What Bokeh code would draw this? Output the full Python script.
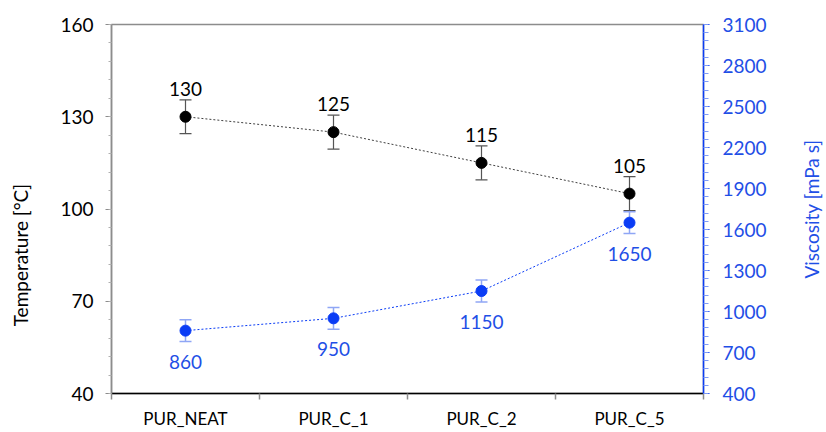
from bokeh.plotting import figure
from bokeh.models import (Range1d, LinearAxis, FixedTicker, Whisker, ColumnDataSource,
                          LabelSet, TeeHead)
from bokeh.layouts import row
from bokeh.core.properties import value
from bokeh.embed import file_html
from bokeh.resources import INLINE
import math

categories = ["PUR_NEAT", "PUR_C_1", "PUR_C_2", "PUR_C_5"]
temperature = [130, 125, 115, 105]
temperature_err = [5.5, 5.5, 5.5, 5.5]
viscosity = [860, 950, 1150, 1650]
viscosity_err = [80, 80, 80, 80]
temp_ticks = [40, 70, 100, 130, 160]
visc_ticks = [400, 700, 1000, 1300, 1600, 1900, 2200, 2500, 2800, 3100]
temp_title = "Temperature [°C]"
visc_title = "Viscosity [mPa s]"

BLUE = "#0a3cf5"
BLUE_TXT = "#1f4fe6"
GRAY = "#8c8c8c"
FONT = "Lato"
TICK_FS = "19px"
H = 431
TOP = 24
BOTTOM = 38

xs = [i + 0.5 for i in range(len(categories))]

src = ColumnDataSource(dict(
    x=xs,
    t=temperature,
    t_lo=[t - e for t, e in zip(temperature, temperature_err)],
    t_hi=[t + e for t, e in zip(temperature, temperature_err)],
    t_lab=[str(t) for t in temperature],
    v=viscosity,
    v_lo=[v - e for v, e in zip(viscosity, viscosity_err)],
    v_hi=[v + e for v, e in zip(viscosity, viscosity_err)],
    v_lab=[str(v) for v in viscosity],
))

p = figure(width=758, height=H, output_backend="svg", toolbar_location=None,
           x_range=Range1d(0, len(categories)), y_range=Range1d(40, 160),
           min_border_left=71, min_border_right=95, min_border_top=TOP,
           min_border_bottom=BOTTOM)
p.extra_y_ranges = {"visc": Range1d(400, 3100)}

p.xgrid.visible = False
p.ygrid.visible = False
p.outline_line_color = GRAY
p.outline_line_width = 1.5

# x axis
xa = p.xaxis[0]
xa.ticker = FixedTicker(ticks=xs, minor_ticks=list(range(len(categories) + 1)))
xa.major_label_overrides = {x: c for x, c in zip(xs, categories)}
xa.major_tick_out = 0
xa.major_tick_in = 0
xa.minor_tick_out = 6
xa.minor_tick_in = 0
xa.minor_tick_line_color = GRAY
xa.minor_tick_line_width = 1.5
xa.axis_line_color = "black"
xa.axis_line_width = 1.5
xa.major_label_text_font = FONT
xa.major_label_text_font_size = "17px"
xa.major_label_text_color = "black"
xa.major_label_standoff = 8

# left axis
ya = p.yaxis[0]
ya.ticker = FixedTicker(ticks=temp_ticks, minor_ticks=list(range(40, 161, 6)))
ya.axis_line_color = GRAY
ya.axis_line_width = 1.5
ya.major_tick_out = 6
ya.major_tick_in = 0
ya.major_tick_line_color = GRAY
ya.minor_tick_out = 3
ya.minor_tick_in = 0
ya.minor_tick_line_color = "#b0b0b0"
ya.major_label_text_font = FONT
ya.major_label_text_font_size = TICK_FS
ya.major_label_text_color = "black"
ya.major_label_standoff = 12

# right axis
ra = LinearAxis(y_range_name="visc",
                ticker=FixedTicker(ticks=visc_ticks, minor_ticks=list(range(400, 3101, 60))))
ra.axis_line_color = BLUE
ra.axis_line_width = 1.5
ra.major_tick_out = 6
ra.major_tick_in = 0
ra.major_tick_line_color = BLUE
ra.minor_tick_out = 5
ra.minor_tick_in = 0
ra.minor_tick_line_color = "#7f9bf5"
ra.major_label_text_font = FONT
ra.major_label_text_font_size = TICK_FS
ra.major_label_text_color = BLUE_TXT
ra.major_label_standoff = 13
p.add_layout(ra, "right")

# temperature series
p.line("x", "t", source=src, line_color="#404040", line_dash="2 2", line_width=1)
w1 = Whisker(source=src, base="x", lower="t_lo", upper="t_hi", line_color="#555555", line_width=1.2)
w1.upper_head = TeeHead(size=12, line_color="#555555", line_width=1.2)
w1.lower_head = TeeHead(size=12, line_color="#555555", line_width=1.2)
p.add_layout(w1)
p.scatter("x", "t", source=src, size=11, fill_color="black", line_color="black")
p.add_layout(LabelSet(x="x", y="t", text="t_lab", source=src, y_offset=28,
                      text_align="center", text_baseline="middle",
                      text_font=value(FONT), text_font_size="19px", text_color="black"))

# viscosity series
p.line("x", "v", source=src, y_range_name="visc", line_color=BLUE, line_dash="2 2", line_width=1)
w2 = Whisker(source=src, base="x", lower="v_lo", upper="v_hi", y_range_name="visc",
             line_color="#8fa6f5", line_width=1.5)
w2.upper_head = TeeHead(size=12, line_color="#8fa6f5", line_width=1.5)
w2.lower_head = TeeHead(size=12, line_color="#8fa6f5", line_width=1.5)
p.add_layout(w2)
p.scatter("x", "v", source=src, y_range_name="visc", size=11, fill_color=BLUE, line_color=BLUE)
p.add_layout(LabelSet(x="x", y="v", text="v_lab", source=src, y_range_name="visc",
                      y_offset=-31, text_align="center", text_baseline="middle",
                      text_font=value(FONT), text_font_size="19px", text_color=BLUE_TXT))


def title_strip(width, text, color, x, y, size):
    f = figure(width=width, height=H, output_backend="svg", toolbar_location=None,
               x_range=Range1d(0, 1), y_range=Range1d(40, 160),
               min_border_left=0, min_border_right=0, min_border_top=TOP,
               min_border_bottom=BOTTOM)
    f.xaxis.visible = False
    f.yaxis.visible = False
    f.xgrid.visible = False
    f.ygrid.visible = False
    f.outline_line_color = None
    f.text(x=[x], y=[y], text=[text], angle=math.pi / 2, text_align="center",
           text_baseline="middle", text_font=value(FONT), text_font_size=size,
           text_color=color)
    return f


left_title = title_strip(40, temp_title, "black", 0.5, 85, "19px")
right_title = title_strip(28, visc_title, BLUE_TXT, 0.45, 100, "19px")

layout = row(left_title, p, right_title)
open("out.html", "w").write(file_html(layout, INLINE))
